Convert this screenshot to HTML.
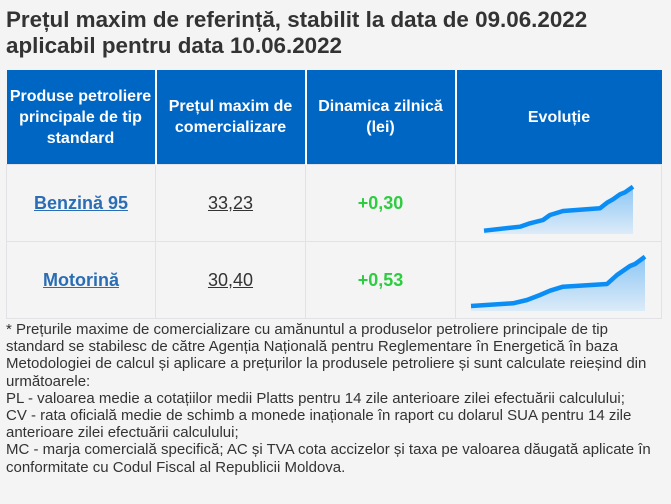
<!DOCTYPE html>
<html><head><meta charset="utf-8"><style>
body{margin:0;width:671px;height:504px;background:#f4f4f4;font-family:"Liberation Sans",sans-serif;color:#333;position:relative;overflow:hidden}
h1{position:absolute;left:6px;top:7px;margin:0;font-size:22.4px;line-height:26px;font-weight:bold;color:#333}
table{position:absolute;left:6px;top:70px;width:656px;border-collapse:collapse}
th{background:#0066c4;color:#fff;font-size:16px;font-weight:bold;height:94px;border-right:2px solid #fff;padding:0 1px;line-height:21px}
th:last-child{border-right:none}
td{height:76px;border:1px solid #e2e2e6;text-align:center;font-size:18px;padding:0}
.n{color:#2a6db5;font-weight:bold;text-decoration:underline}
.p{text-decoration:underline;color:#333}
.g{color:#2ecc40;font-weight:bold}
.foot{position:absolute;left:6px;top:321px;width:650px;font-size:15px;line-height:17.2px;color:#333}
</style></head><body>
<h1>Prețul maxim de referință, stabilit la data de 09.06.2022<br>aplicabil pentru data 10.06.2022</h1>
<table>
<tr><th style="width:146px">Produse petroliere principale de tip standard</th><th style="width:146px">Prețul maxim de comercializare</th><th style="width:146px">Dinamica zilnică (lei)</th><th>Evoluție</th></tr>
<tr><td class="n">Benzină 95</td><td class="p">33,23</td><td class="g">+0,30</td><td></td></tr>
<tr><td class="n">Motorină</td><td class="p">30,40</td><td class="g">+0,53</td><td></td></tr>
</table>
<svg width="671" height="504" style="position:absolute;left:0;top:0">
<defs><linearGradient id="gr" x1="0" y1="0" x2="0" y2="1"><stop offset="0" stop-color="#8cc6f5"/><stop offset="1" stop-color="#dcebf8"/></linearGradient></defs>
<polygon fill="url(#gr)" points="484,230.7 520,226.7 530,223.3 543,220 550,215 563,211 600,208.3 607,202.7 613,199.3 620,194.3 625,192.3 633,186.7 633,234 484,234"/>
<polyline fill="none" stroke="#0a8ef5" stroke-width="4.5" stroke-linejoin="round" points="484,230.7 520,226.7 530,223.3 543,220 550,215 563,211 600,208.3 607,202.7 613,199.3 620,194.3 625,192.3 633,186.7"/>
<polygon fill="url(#gr)" points="471,306 513,303.3 527,300 540,295 550,290.7 563,286.7 607,284 617,275 630,266 635,264 645,256.7 645,311 471,311"/>
<polyline fill="none" stroke="#0a8ef5" stroke-width="4.5" stroke-linejoin="round" points="471,306 513,303.3 527,300 540,295 550,290.7 563,286.7 607,284 617,275 630,266 635,264 645,256.7"/>
</svg>
<div class="foot">* Prețurile maxime de comercializare cu amănuntul a produselor petroliere principale de tip standard se stabilesc de către Agenția Națională pentru Reglementare în Energetică în baza Metodologiei de calcul și aplicare a prețurilor la produsele petroliere și sunt calculate reieșind din următoarele:<br>PL - valoarea medie a cotațiilor medii Platts pentru 14 zile anterioare zilei efectuării calculului;<br>CV - rata oficială medie de schimb a monede inaționale în raport cu dolarul SUA pentru 14 zile anterioare zilei efectuării calculului;<br>MC - marja comercială specifică; AC și TVA cota accizelor și taxa pe valoarea dăugată aplicate în conformitate cu Codul Fiscal al Republicii Moldova.</div>
</body></html>
